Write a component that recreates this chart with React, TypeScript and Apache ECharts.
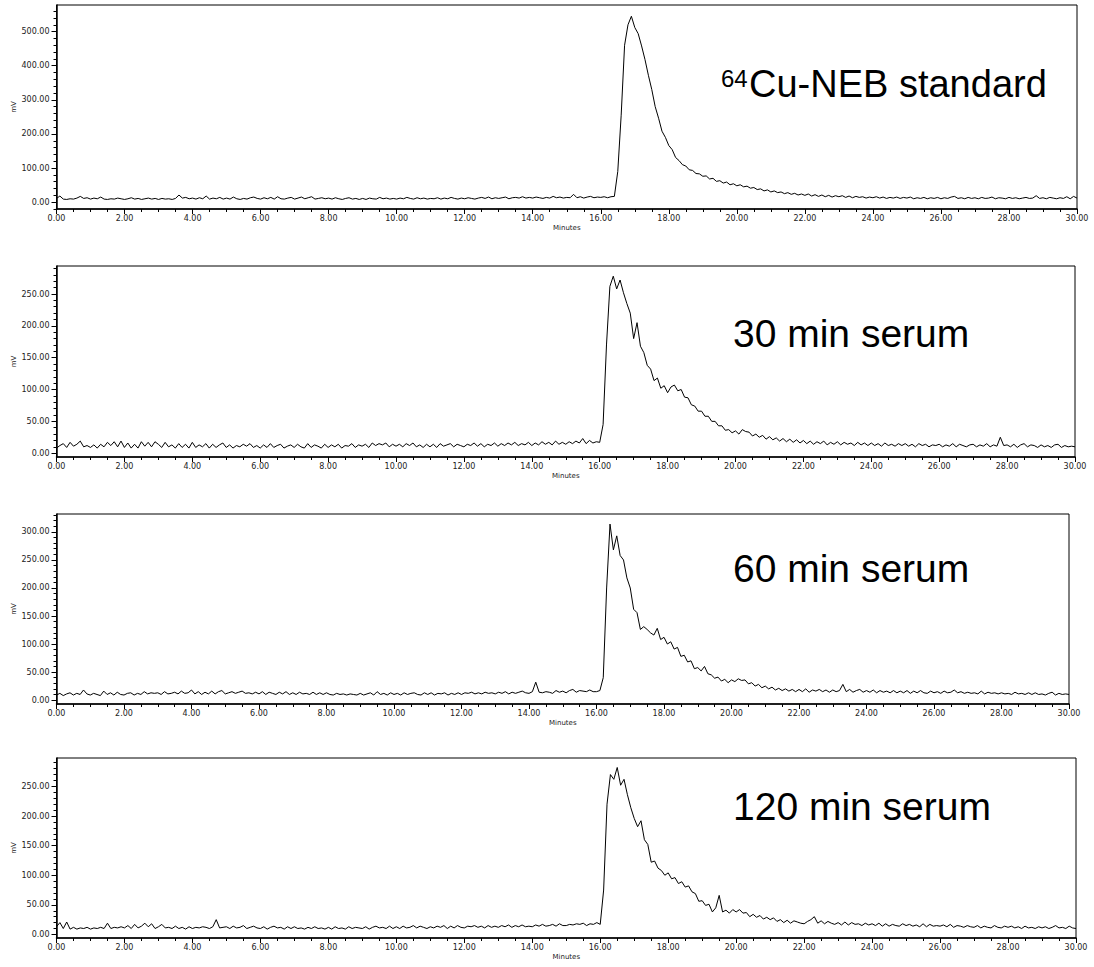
import React, { useEffect, useRef } from "react";
import * as echarts from "echarts";

// Sampling step of the traces (minutes)
const SAMPLE_STEP = 0.1;

// x-axis tick labels (minutes)
const xTickLabels = [0, 2, 4, 6, 8, 10, 12, 14, 16, 18, 20, 22, 24, 26, 28, 30];

// Detector signal (mV), one value per 0.1 min from 0.0 to 30.0
const stdTrace = [
  11,18,9,8,10,9,12,17,11,13,
  9,12,10,15,9,8,10,9,12,10,
  8,10,13,9,11,8,10,12,9,11,
  8,11,9,10,8,11,21,12,14,10,
  12,9,13,10,18,9,12,10,14,9,
  12,9,15,10,8,11,9,13,15,11,
  9,13,10,14,9,16,10,9,12,14,
  9,12,15,10,13,16,9,11,13,10,
  12,9,13,10,8,11,13,9,11,8,
  11,8,12,10,9,14,10,12,9,11,
  9,12,10,14,11,9,13,10,12,9,
  11,10,13,9,12,10,14,11,9,12,
  10,13,11,9,12,14,11,15,10,13,
  11,13,15,10,13,14,12,16,12,14,
  12,15,13,11,14,12,17,13,15,12,
  14,13,23,13,16,12,15,17,13,15,
  14,16,13,16,17,90,255,460,520,545,
  512,494,458,418,372,330,280,246,208,190,
  166,154,131,122,110,106,95,93,84,83,
  76,77,68,70,61,63,56,59,51,54,
  48,51,45,47,41,43,37,39,33,36,
  30,33,28,30,25,28,23,26,21,24,
  20,24,18,22,17,21,16,20,15,19,
  16,19,14,18,13,17,14,16,12,15,
  13,16,12,15,11,14,12,15,11,14,
  12,15,10,13,11,14,10,13,11,14,
  10,13,11,15,17,11,13,10,14,11,
  13,10,14,11,12,15,10,13,12,10,
  14,11,13,10,12,14,11,12,19,11,
  13,10,14,12,10,13,11,16,10,17,
  12,
];

const serum30Trace = [
  8,12,15,9,17,11,14,19,10,12,
  9,13,8,14,10,17,12,18,10,19,
  9,16,8,14,8,18,11,17,10,18,
  14,9,17,10,13,8,15,9,14,8,
  17,9,13,10,15,8,14,9,13,16,
  9,13,8,12,10,14,11,15,9,12,
  8,13,9,15,9,12,14,8,11,13,
  9,14,10,8,15,9,13,11,8,14,
  9,13,10,14,8,12,11,15,9,13,
  11,14,9,16,12,15,13,16,10,14,
  11,14,10,15,12,16,10,13,9,14,
  10,14,9,15,11,13,15,10,14,12,
  10,14,12,16,11,15,10,14,12,16,
  11,15,12,16,13,17,12,15,13,17,
  12,16,13,18,14,17,13,19,14,17,
  14,18,15,19,16,23,15,20,16,18,
  17,45,170,262,278,258,272,252,235,220,
  180,205,168,158,138,132,114,118,102,106,
  95,104,107,98,100,88,87,76,74,66,
  66,58,58,50,50,43,43,36,37,32,
  35,30,37,34,33,27,30,25,28,22,
  26,21,24,19,23,18,22,17,21,16,
  20,15,19,14,18,15,19,13,17,14,
  18,13,17,14,16,12,17,13,16,12,
  16,12,15,11,16,12,14,11,15,12,
  15,11,14,10,15,12,14,10,13,12,
  14,10,13,11,15,10,14,12,10,13,
  14,10,13,11,15,10,13,11,25,12,
  13,10,14,9,13,15,10,13,12,9,
  13,10,12,9,13,14,9,12,10,11,
  10,
];

const serum60Trace = [
  9,12,8,11,13,9,12,10,18,11,
  9,12,10,8,16,10,13,9,14,10,
  9,12,13,9,12,10,15,11,13,12,
  13,10,15,11,12,14,11,16,12,13,
  18,11,15,10,14,11,16,11,15,17,
  11,13,15,12,14,16,12,13,11,14,
  11,15,10,14,12,10,14,11,15,10,
  13,10,14,11,12,10,14,10,13,10,
  13,10,9,12,10,11,9,11,10,9,
  12,9,11,13,9,15,10,12,9,13,
  10,12,9,13,10,12,13,10,9,13,
  10,13,9,12,11,13,9,12,10,13,
  10,13,12,14,11,13,11,14,12,13,
  11,14,12,15,11,14,12,14,16,13,
  12,15,32,14,13,15,14,12,17,14,
  16,13,17,19,14,17,16,15,18,15,
  15,17,40,200,314,268,293,258,250,218,
  200,162,156,126,131,126,120,116,128,108,
  112,100,104,91,94,78,80,68,70,56,
  58,52,60,47,45,39,41,34,37,31,
  36,33,38,35,36,29,31,25,28,22,
  25,20,23,18,21,17,20,16,19,15,
  19,15,20,14,18,16,19,15,18,14,
  18,15,17,28,15,19,14,17,19,14,
  17,14,18,13,17,14,16,13,17,13,
  16,13,17,12,16,13,17,13,12,16,
  13,15,12,16,13,14,18,13,15,12,
  14,12,13,11,16,11,14,12,13,11,
  13,11,12,10,14,11,12,10,13,10,
  13,10,11,9,12,14,9,12,10,11,
  10,
];

const serum120Trace = [
  13,20,10,21,9,12,9,11,10,12,
  9,11,10,12,10,19,10,12,11,13,
  11,15,10,17,11,14,19,13,18,10,
  13,17,11,12,10,14,10,12,9,13,
  10,12,11,13,12,10,13,25,11,12,
  13,10,14,11,12,15,10,12,14,11,
  10,13,9,12,14,11,12,9,13,10,
  13,10,11,9,12,10,13,10,11,9,
  12,9,13,10,11,9,13,10,12,11,
  10,13,9,12,14,11,12,10,14,10,
  13,10,14,11,12,15,11,14,12,10,
  13,11,14,12,15,10,14,11,15,12,
  11,14,13,15,12,14,11,15,12,14,
  12,15,13,16,12,15,13,16,13,14,
  13,16,14,17,14,15,17,14,18,15,
  15,17,16,18,17,19,15,18,17,20,
  17,75,220,270,262,282,252,262,236,214,
  196,182,192,160,152,122,124,112,108,100,
  104,94,96,86,89,80,82,72,69,56,
  57,49,51,38,45,66,38,41,36,42,
  38,42,36,37,30,34,29,32,26,29,
  25,28,22,25,20,24,19,23,21,19,
  18,22,25,30,19,23,18,22,19,17,
  20,16,21,16,20,17,18,15,19,16,
  18,15,19,14,18,14,17,15,14,18,
  15,17,14,16,13,18,13,17,14,15,
  14,16,13,17,12,15,14,12,15,13,
  12,15,11,14,12,11,15,12,11,14,
  12,14,11,13,10,14,11,12,10,13,
  11,13,10,12,15,11,12,10,14,11,
  10,
];

// y-axis tick values per panel
const stdMajorTicks = [0, 100, 200, 300, 400, 500];
const stdMinorTicks = [-20,0,20,40,60,80,100,120,140,160,180,200,220,240,260,280,300,320,340,360,380,400,420,440,460,480,500,520,540,560];
const serum30MajorTicks = [0, 50, 100, 150, 200, 250];
const serum30MinorTicks = [0,10,20,30,40,50,60,70,80,90,100,110,120,130,140,150,160,170,180,190,200,210,220,230,240,250,260,270,280,290];
const serum60MajorTicks = [0, 50, 100, 150, 200, 250, 300];
const serum60MinorTicks = [0,10,20,30,40,50,60,70,80,90,100,110,120,130,140,150,160,170,180,190,200,210,220,230,240,250,260,270,280,290,300,310,320,330];
const serum120MajorTicks = [0, 50, 100, 150, 200, 250];
const serum120MinorTicks = [0,10,20,30,40,50,60,70,80,90,100,110,120,130,140,150,160,170,180,190,200,210,220,230,240,250,260,270,280,290];

const panelLabels = ["Cu-NEB standard", "30 min serum", "60 min serum", "120 min serum"];
const isotopeLabel = "64";

const TICK_FONT = "'DejaVu Sans', sans-serif";
const ANNOT_FONT = "'Liberation Sans', Arial, sans-serif";

function toPairs(values: number[]) {
  return values.map((v, i) => [Number((i * SAMPLE_STEP).toFixed(1)), v]);
}

export default function App() {
  const ref = useRef<HTMLDivElement>(null);

  useEffect(() => {
    if (!ref.current) return;
    const chart = echarts.init(ref.current, undefined, { renderer: "svg" });

    const panels = [
      { trace: stdTrace, major: stdMajorTicks, minor: stdMinorTicks, min: -20, max: 578,
        grid: { left: 56.5, top: 5, width: 1020.5, height: 204 } },
      { trace: serum30Trace, major: serum30MajorTicks, minor: serum30MinorTicks, min: -6, max: 294,
        grid: { left: 56.5, top: 266, width: 1018.5, height: 191 } },
      { trace: serum60Trace, major: serum60MajorTicks, minor: serum60MinorTicks, min: -7, max: 332,
        grid: { left: 56.5, top: 514, width: 1012.5, height: 190 } },
      { trace: serum120Trace, major: serum120MajorTicks, minor: serum120MinorTicks, min: -6, max: 298,
        grid: { left: 56.5, top: 758, width: 1019.5, height: 180 } },
    ];

    const grids: any[] = [];
    const xAxes: any[] = [];
    const yAxes: any[] = [];
    const series: any[] = [];

    panels.forEach((p, i) => {
      grids.push({
        ...p.grid,
        show: true,
        borderColor: "#000",
        borderWidth: 1,
        backgroundColor: "transparent",
        containLabel: false,
        outerBoundsMode: "none",
      });
      xAxes.push({
        type: "value",
        gridIndex: i,
        position: "bottom",
        min: 0,
        max: 30,
        interval: 2,
        name: "Minutes",
        nameLocation: "middle",
        nameGap: 15,
        nameMoveOverlap: false,
        nameTextStyle: { fontSize: 7, fontFamily: TICK_FONT, color: "#222" },
        axisLine: { show: true, onZero: false, lineStyle: { color: "#000", width: 1.5 } },
        axisTick: { show: true, length: 5, lineStyle: { color: "#000", width: 1 } },
        minorTick: { show: true, splitNumber: 4, length: 3, lineStyle: { color: "#000", width: 1 } },
        axisLabel: {
          fontSize: 8,
          fontFamily: TICK_FONT,
          color: "#222",
          margin: 5,
          customValues: xTickLabels,
          formatter: (v: number) => v.toFixed(2),
        },
        splitLine: { show: false },
        minorSplitLine: { show: false },
      });
      yAxes.push({
        type: "value",
        gridIndex: i,
        position: "left",
        min: p.min,
        max: p.max,
        name: "mV",
        nameLocation: "middle",
        nameGap: 39,
        nameMoveOverlap: false,
        nameRotate: 90,
        nameTextStyle: { fontSize: 7, fontFamily: TICK_FONT, color: "#222" },
        axisLine: { show: true, onZero: false, lineStyle: { color: "#000", width: 1.5 } },
        axisTick: { show: true, length: 5, customValues: p.major, lineStyle: { color: "#000", width: 1 } },
        axisLabel: {
          fontSize: 8,
          fontFamily: TICK_FONT,
          color: "#222",
          margin: 7,
          customValues: p.major,
          formatter: (v: number) => v.toFixed(2),
        },
        splitLine: { show: false },
      });
      yAxes.push({
        type: "value",
        gridIndex: i,
        position: "left",
        offset: 0,
        min: p.min,
        max: p.max,
        axisLine: { show: false, onZero: false },
        axisTick: { show: true, length: 3, customValues: p.minor, lineStyle: { color: "#000", width: 1 } },
        axisLabel: { show: false },
        splitLine: { show: false },
      });
      series.push({
        type: "line",
        xAxisIndex: i,
        yAxisIndex: i * 2,
        data: toPairs(p.trace),
        showSymbol: false,
        symbol: "none",
        lineStyle: { color: "#000", width: 1 },
        silent: true,
      });
    });

    const annotStyle = { fontSize: 39, fontFamily: ANNOT_FONT, fill: "#000", verticalAlign: "middle", align: "left" };

    chart.setOption({
      animation: false,
      backgroundColor: "#fff",
      grid: grids,
      xAxis: xAxes,
      yAxis: yAxes,
      series,
      graphic: [
        { type: "text", x: 721, y: 78, style: { text: isotopeLabel, fontSize: 24, fontFamily: ANNOT_FONT, fill: "#000", verticalAlign: "middle", align: "left" } },
        { type: "text", x: 749, y: 84, style: { ...annotStyle, fontSize: 38, text: panelLabels[0] } },
        { type: "text", x: 733, y: 333, style: { ...annotStyle, text: panelLabels[1] } },
        { type: "text", x: 733, y: 568, style: { ...annotStyle, text: panelLabels[2] } },
        { type: "text", x: 733, y: 806, style: { ...annotStyle, text: panelLabels[3] } },
      ],
    });

    return () => chart.dispose();
  }, []);

  return (
    <div
      ref={ref}
      style={{ position: "fixed", left: 0, top: 0, width: 1094, height: 967, background: "#fff" }}
    />
  );
}
